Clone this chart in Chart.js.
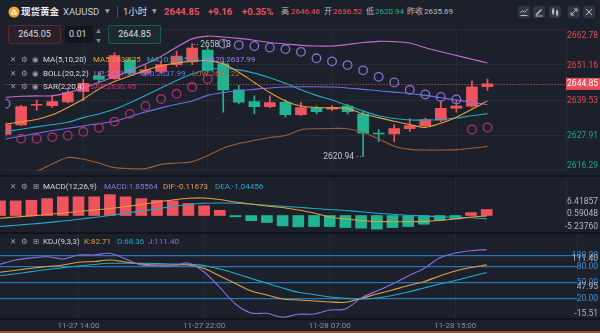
<!DOCTYPE html>
<html>
<head>
<meta charset="utf-8">
<script src="https://cdn.jsdelivr.net/npm/chart.js@4.4.1/dist/chart.umd.min.js"></script>
<style>
  html, body { margin: 0; padding: 0; background: #1c202b; }
  body { width: 600px; height: 333px; position: relative; overflow: hidden;
         font-family: Roboto, "Noto Sans CJK SC", "DejaVu Sans", sans-serif; }
  canvas { position: absolute; left: 0; }
  .t { position: absolute; white-space: nowrap; line-height: 1; pointer-events: none; z-index: 5; }
  .hd { font-size: 9.5px; top: 7px; }
  .sub { font-size: 8px; top: 8px; }
  .lg { font-size: 8px; }
  .ic { font-size: 7.5px; color: #9aa0aa; font-family: "DejaVu Sans", sans-serif; }
  .sep { position: absolute; left: 0; width: 600px; background: #11141b; z-index: 4; }
  .btn { position: absolute; top: 6px; width: 12px; height: 12px; background: #2f3543; border-radius: 2px; z-index: 5; }
  .btn svg { position: absolute; left: 0; top: 0; }
  .box { position: absolute; z-index: 5; font-size: 9px; color: #dcdfe4; text-align: center; line-height: 17px; border-radius: 2px; }
</style>
</head>
<body>
<canvas id="main" width="600" height="152" style="top:24px"></canvas>
<canvas id="macd" width="600" height="57" style="top:176px"></canvas>
<canvas id="kdj" width="600" height="100" style="top:233px"></canvas>

<div class="sep" style="top:175px;height:2px"></div>
<div class="sep" style="top:232px;height:2px"></div>
<div class="sep" style="top:318px;height:2px"></div>
<div style="position:absolute;left:0;top:331px;width:600px;height:2px;background:#a34e2d"></div>

<!-- header -->
<svg style="position:absolute;left:8px;top:6px" width="12" height="12">
  <circle cx="6" cy="6" r="5.5" fill="#f3a62f"/>
  <rect x="3" y="6.5" width="2.6" height="2" fill="#fff"/>
  <rect x="6.4" y="6.5" width="2.6" height="2" fill="#fff"/>
  <rect x="4.7" y="3.8" width="2.6" height="2" fill="#fff"/>
</svg>
<span class="t hd" style="left:21px;color:#eceef2;font-weight:bold">现货黄金</span>
<span class="t hd" style="left:63px;color:#c9cdd4">XAUUSD</span>
<span class="t ic" style="left:105px;top:8px;font-size:6px">▼</span>
<div style="position:absolute;left:117px;top:6px;width:1px;height:12px;background:#454b57"></div>
<span class="t hd" style="left:123px;color:#d3d6dc">1小时</span>
<span class="t ic" style="left:152px;top:8px;font-size:6px">▼</span>
<span class="t hd" id="hLast" style="left:164px;color:#f0505b;font-weight:bold"></span>
<span class="t hd" id="hChg" style="left:208px;color:#f0505b;font-weight:bold"></span>
<span class="t hd" id="hPct" style="left:242px;color:#f0505b;font-weight:bold"></span>
<span class="t sub" style="left:281px;color:#b9bdc5">高</span>
<span class="t sub" id="hHigh" style="left:291px;color:#f0505b"></span>
<span class="t sub" style="left:324px;color:#b9bdc5">开</span>
<span class="t sub" id="hOpen" style="left:333px;color:#f0505b"></span>
<span class="t sub" style="left:366px;color:#b9bdc5">低</span>
<span class="t sub" id="hLow" style="left:375px;color:#1fb38f"></span>
<span class="t sub" style="left:407px;color:#b9bdc5">昨收</span>
<span class="t sub" id="hPrev" style="left:424px;color:#b9bdc5"></span>

<div class="btn" style="left:518px"><svg width="12" height="12"><polyline points="2.5,7 4.5,4.5 6.5,6.5 9.5,3" fill="none" stroke="#b7bcc6" stroke-width="1"/><line x1="2.5" y1="9.5" x2="9.5" y2="9.5" stroke="#b7bcc6"/></svg></div>
<div class="btn" style="left:533px"><svg width="12" height="12"><line x1="3" y1="9" x2="8.5" y2="3.5" stroke="#b7bcc6" stroke-width="1.6"/><line x1="2.5" y1="10" x2="9.5" y2="10" stroke="#b7bcc6"/></svg></div>
<div class="btn" style="left:549px"><svg width="12" height="12"><rect x="3" y="3.5" width="2.2" height="4" fill="#b7bcc6"/><line x1="4.1" y1="2" x2="4.1" y2="9" stroke="#b7bcc6"/><rect x="7" y="5" width="2.2" height="4" fill="#b7bcc6"/><line x1="8.1" y1="3.5" x2="8.1" y2="10.5" stroke="#b7bcc6"/></svg></div>
<div class="btn" style="left:568px"><svg width="12" height="12"><line x1="3" y1="9" x2="9" y2="3" stroke="#b7bcc6"/><polyline points="6,3 9,3 9,6" fill="none" stroke="#b7bcc6"/><polyline points="3,6 3,9 6,9" fill="none" stroke="#b7bcc6"/></svg></div>
<div class="btn" style="left:583px"><svg width="12" height="12"><line x1="3" y1="3" x2="9" y2="9" stroke="#b7bcc6"/><line x1="9" y1="3" x2="3" y2="9" stroke="#b7bcc6"/></svg></div>

<!-- order boxes -->
<div class="box" id="askBox" style="left:8px;top:25px;width:51px;height:17px;border:1px solid #5c2a34;background:#2a2029"></div>
<div class="box" style="left:65px;top:26px;width:28px;height:17px;background:#12151c;text-align:left;padding-left:4px;box-sizing:border-box">0.01</div>
<span class="t" style="left:96px;top:29px;font-size:5px;color:#7e848f">▲</span>
<span class="t" style="left:96px;top:38px;font-size:5px;color:#7e848f">▼</span>
<div class="box" id="bidBox" style="left:108px;top:25px;width:51px;height:17px;border:1px solid #1f5a4f;background:#1b2b2d"></div>

<!-- indicator legends -->
<span class="t ic" style="left:10px;top:56px">✕</span><span class="t ic" style="left:21px;top:56px">⚙</span><span class="t ic" style="left:32px;top:56px">◉</span>
<span class="t lg" style="left:43px;top:56px;color:#d6d9df">MA(5,10,20)</span>
<span class="t lg" id="lgMa5" style="left:93px;top:56px;color:#e49f3d"></span>
<span class="t lg" id="lgMa10" style="left:147px;top:56px;color:#25a8c6"></span>
<span class="t lg" id="lgMa20" style="left:203px;top:56px;color:#9c82ea"></span>

<span class="t ic" style="left:10px;top:69.5px">✕</span><span class="t ic" style="left:21px;top:69.5px">⚙</span><span class="t ic" style="left:32px;top:69.5px">◉</span>
<span class="t lg" style="left:43px;top:69.5px;color:#d6d9df">BOLL(20,2,2)</span>
<span class="t lg" id="lgUp" style="left:94px;top:69.5px;color:#c66ccd"></span>
<span class="t lg" id="lgMid" style="left:140px;top:69.5px;color:#6b72ee"></span>
<span class="t lg" id="lgLow" style="left:192px;top:69.5px;color:#b26c36"></span>

<span class="t ic" style="left:10px;top:83px">✕</span><span class="t ic" style="left:21px;top:83px">⚙</span><span class="t ic" style="left:32px;top:83px">◉</span>
<span class="t lg" style="left:43px;top:83px;color:#d6d9df">SAR(2,20,4)</span>
<span class="t lg" id="lgSar" style="left:90px;top:83px;color:#c0347a"></span>

<span class="t ic" style="left:10px;top:182.5px">✕</span><span class="t ic" style="left:21px;top:182.5px">⚙</span><span class="t ic" style="left:33px;top:182.5px">⊞</span>
<span class="t lg" style="left:43px;top:182.5px;color:#d6d9df">MACD(12,26,9)</span>
<span class="t lg" id="lgMacd" style="left:104px;top:182.5px;color:#8d74e2"></span>
<span class="t lg" id="lgDif" style="left:163px;top:182.5px;color:#e49f3d"></span>
<span class="t lg" id="lgDea" style="left:215px;top:182.5px;color:#25a8c6"></span>

<span class="t ic" style="left:10px;top:237.5px">✕</span><span class="t ic" style="left:21px;top:237.5px">⚙</span><span class="t ic" style="left:33px;top:237.5px">⊞</span>
<span class="t lg" style="left:43px;top:237.5px;color:#d6d9df">KDJ(9,3,3)</span>
<span class="t lg" id="lgK" style="left:84px;top:237.5px;color:#e49f3d"></span>
<span class="t lg" id="lgD" style="left:117px;top:237.5px;color:#25a8c6"></span>
<span class="t lg" id="lgJ" style="left:148px;top:237.5px;color:#8d74e2"></span>

<script>
// XAUUSD 1h bars, 11-27 09:00 .. 11-28 17:00
const opens  = [2628.2, 2631.3, 2637.8, 2637.7, 2638.9, 2642.4, 2647.5, 2646.6, 2652.7, 2648.4, 2649.0, 2651.2, 2652.1, 2656.0, 2651.5, 2642.9,
                2639.0, 2637.3, 2638.8, 2634.7, 2637.0, 2636.52, 2637.5, 2634.9, 2628.6, 2628.3, 2630.1, 2631.1, 2632.9, 2636.8, 2637.5, 2643.9];
const highs  = [2632.0, 2637.8, 2639.5, 2641.1, 2642.9, 2646.3, 2648.5, 2655.1, 2653.6, 2651.0, 2652.4, 2655.7, 2658.13, 2657.0, 2652.4, 2644.4,
                2640.9, 2640.9, 2639.6, 2638.8, 2637.5, 2637.7, 2638.0, 2635.9, 2629.8, 2631.4, 2633.4, 2633.6, 2639.0, 2639.5, 2645.9, 2646.46];
const lows   = [2627.5, 2631.0, 2636.2, 2637.1, 2638.6, 2639.3, 2645.3, 2646.3, 2647.8, 2647.5, 2648.4, 2650.5, 2651.2, 2648.7, 2635.55, 2638.2,
                2635.0, 2637.0, 2633.9, 2634.4, 2634.9, 2636.0, 2634.9, 2620.94, 2625.8, 2625.8, 2629.1, 2630.5, 2632.4, 2635.5, 2637.2, 2642.7];
const closes = [2631.3, 2637.4, 2637.9, 2639.0, 2642.0, 2645.0, 2646.3, 2654.2, 2648.4, 2649.5, 2651.2, 2654.0, 2656.7, 2649.3, 2642.9, 2638.8,
                2637.3, 2638.7, 2634.7, 2637.0, 2635.69, 2637.0, 2635.7, 2628.6, 2628.3, 2630.1, 2631.1, 2633.1, 2636.8, 2637.5, 2643.9, 2644.85];

const ma5  = [2631.58, 2632.34, 2633.11, 2634.63, 2637.08, 2639.84, 2643.20, 2645.65, 2647.48, 2649.32, 2650.85, 2651.77, 2652.38, 2652.53, 2651.46, 2648.71,
              2645.34, 2641.98, 2639.22, 2637.54, 2637.08, 2636.93, 2636.78, 2634.94, 2633.72, 2632.49, 2631.42, 2630.50, 2631.88, 2633.87, 2636.47, 2639.25];
const ma10 = [2629.13, 2629.89, 2630.66, 2631.42, 2632.19, 2633.72, 2634.94, 2636.47, 2638.61, 2641.06, 2643.51, 2645.95, 2648.10, 2649.62, 2649.93, 2649.47,
              2648.40, 2646.87, 2645.04, 2642.89, 2641.06, 2639.53, 2637.69, 2635.86, 2634.33, 2633.41, 2632.95, 2632.89, 2633.11, 2633.57, 2634.33, 2635.03];
const bollUp  = [2640.45, 2640.75, 2640.91, 2640.91, 2641.98, 2643.51, 2645.34, 2647.18, 2649.32, 2651.46, 2653.91, 2656.97, 2659.72, 2660.64, 2660.33, 2659.87,
                 2659.26, 2658.50, 2658.04, 2657.58, 2657.36, 2657.36, 2657.88, 2658.50, 2658.89, 2658.80, 2658.34, 2656.81, 2655.44, 2654.21, 2652.99, 2651.75];
// MA20 and the Bollinger middle band are the same line
const bollMid = [2626.68, 2627.60, 2628.52, 2629.44, 2630.20, 2630.97, 2631.73, 2632.49, 2634.03, 2635.55, 2636.93, 2638.15, 2639.22, 2641.06, 2641.98, 2642.59,
                 2643.05, 2643.51, 2643.81, 2643.90, 2643.90, 2643.81, 2643.51, 2643.05, 2642.59, 2642.13, 2641.67, 2641.06, 2640.29, 2639.53, 2638.77, 2637.99];
const bollLow = [2614.45, 2615.06, 2615.98, 2618.42, 2620.56, 2619.95, 2618.73, 2617.20, 2616.89, 2616.89, 2618.27, 2618.73, 2619.19, 2621.18, 2623.62, 2625.15,
                 2626.22, 2627.14, 2627.81, 2629.74, 2630.05, 2630.14, 2630.05, 2628.82, 2626.68, 2624.24, 2623.23, 2623.01, 2623.01, 2623.16, 2623.62, 2624.22];
const sar = [2638.31, 2626.77, 2626.77, 2627.29, 2627.81, 2629.04, 2630.35, 2632.40, 2634.94, 2637.48, 2639.84, 2641.58, 2643.81, 2646.47, 2658.13, 2657.67,
             2657.36, 2656.87, 2656.35, 2655.44, 2653.30, 2652.29, 2651.06, 2649.32, 2647.18, 2645.34, 2642.89, 2641.37, 2640.54, 2639.74, 2629.83, 2630.45];

const macdHist = [4.5, 4.5, 4.7, 5.2, 5.75, 5.75, 5.75, 6.41857, 5.75, 5.2, 4.7, 4.5, 3.7, 3.0, 1.6, -0.4,
                  -1.6, -2.15, -3.2, -3.5, -3.4, -3.4, -3.7, -3.9, -4.2, -3.7, -3.4, -2.7, -1.5, -1.0, 0.9, 1.85564];
const dif = [-0.86, -0.46, -0.1, 0.3, 0.77, 1.23, 1.7, 2.15, 2.77, 3.38, 4.15, 4.77, 5.3, 5.38, 4.9, 4.15,
             3.54, 2.9, 2.46, 1.7, 0.77, -0.46, -1.08, -1.54, -1.85, -1.9, -1.9, -1.8, -1.54, -1.08, -0.46, -0.11673];
const dea = [-3.38, -3.0, -2.6, -2.2, -1.7, -1.17, -0.6, 0, 0.68, 1.38, 2.06, 2.77, 3.38, 3.75, 3.85, 3.75,
             3.48, 3.17, 2.86, 2.52, 2.15, 1.85, 1.54, 1.14, 0.71, 0.37, 0.09, -0.15, -0.37, -0.52, -0.7, -1.04456];

const kLine = [68.8, 72.6, 76.3, 79.7, 82.5, 87.6, 89.1, 91.9, 88.2, 84.4, 82.5, 82.5, 82.5, 76.0, 61.9, 47.8,
               33.7, 26.2, 18.7, 16.8, 14.9, 13.1, 12.5, 19.6, 28.1, 35.6, 44.0, 51.2, 61.9, 71.3, 77.8, 82.71];
const dLine = [62.4, 66.2, 70.0, 74.1, 77.5, 80.7, 83.5, 85.7, 85.7, 85.7, 85.4, 84.4, 83.8, 81.6, 75.0, 66.6,
               57.2, 48.2, 39.3, 31.3, 27.1, 22.4, 20.0, 18.7, 20.6, 25.3, 31.8, 39.3, 46.9, 53.4, 60.9, 68.36];
const jLine = [83.8, 91.9, 95.7, 98.1, 93.8, 101.3, 101.3, 104.5, 93.8, 82.5, 81.2, 80.7, 86.3, 69.4, 40.3, 9.3,
               -7.6, -8.2, -15.51, -9.9, -9.5, -2.0, -0.1, 20.6, 33.7, 46.9, 61.9, 76.0, 95.7, 105.1, 109.4, 111.40];

const tickIdx    = [5, 13, 21, 29];
const tickLabels = ['11-27 14:00', '11-27 22:00', '11-28 07:00', '11-28 15:00'];
const priceTicks = [2616.29, 2627.91, 2639.53, 2651.16, 2662.78];
const kdjLevels  = [20, 50, 80, 100];
const macdAxisLabels = ['6.41857', '0.59048', '-5.23760'];
const kdjAxisLabels  = ['111.40', '47.95', '-15.51'];
const prevClose = 2635.69;
const askPrice  = 2645.05;
const dayStart  = 21;   // first bar of 11-28

const RED = '#ef535d', GREEN = '#20b493';
const SLOT = 15.7;      // px per bar
const FONT = 'Roboto, "Noto Sans CJK SC", sans-serif';
Chart.defaults.font.family = FONT;

const pts = arr => arr.map((v, i) => ({ x: i, y: v }));
const candleColors = closes.map((c, i) => c >= opens[i] ? RED : GREEN);
const last = closes[closes.length - 1];

// header / legend texts
const setText = (id, s) => { document.getElementById(id).textContent = s; };
const lastOf = a => a[a.length - 1];
const chg = last - prevClose;
setText('hLast', last.toFixed(2));
setText('hChg', (chg >= 0 ? '+' : '') + chg.toFixed(2));
setText('hPct', (chg >= 0 ? '+' : '') + (chg / prevClose * 100).toFixed(2) + '%');
setText('hHigh', Math.max(...highs.slice(dayStart)).toFixed(2));
setText('hOpen', opens[dayStart].toFixed(2));
setText('hLow', Math.min(...lows.slice(dayStart)).toFixed(2));
setText('hPrev', prevClose.toFixed(2));
setText('askBox', askPrice.toFixed(2));
setText('bidBox', last.toFixed(2));
setText('lgMa5', 'MA5:' + lastOf(ma5).toFixed(2));
setText('lgMa10', 'MA10:' + lastOf(ma10).toFixed(2));
setText('lgMa20', 'MA20:' + lastOf(bollMid).toFixed(2));
setText('lgUp', 'UP:' + lastOf(bollUp).toFixed(2));
setText('lgMid', 'MID:' + lastOf(bollMid).toFixed(2));
setText('lgLow', 'LOW:' + lastOf(bollLow).toFixed(2));
setText('lgSar', 'SAR:' + lastOf(sar).toFixed(2));
setText('lgMacd', 'MACD:' + lastOf(macdHist).toFixed(5));
setText('lgDif', 'DIF:' + lastOf(dif).toFixed(5));
setText('lgDea', 'DEA:' + lastOf(dea).toFixed(5));
setText('lgK', 'K:' + lastOf(kLine).toFixed(2));
setText('lgD', 'D:' + lastOf(dLine).toFixed(2));
setText('lgJ', 'J:' + lastOf(jLine).toFixed(2));

function xAxis(areaW, showLabels) {
  return {
    type: 'linear', min: 0, max: areaW / SLOT, offset: false,
    afterBuildTicks: s => { s.ticks = tickIdx.map(v => ({ value: v })); },
    afterFit: s => { s.height = showLabels ? 15 : 0; },
    grid: { color: '#252a35', drawTicks: false, offset: false },
    border: { display: false },
    ticks: {
      display: showLabels, color: '#8a8f99', font: { size: 8 }, padding: 3,
      maxRotation: 0, autoSkip: false,
      callback: v => tickLabels[tickIdx.indexOf(v)]
    }
  };
}

function yAxis(min, max, width, ticks, grid) {
  return {
    position: 'right', min, max,
    afterFit: s => { s.width = width; },
    afterBuildTicks: s => { s.ticks = (ticks || []).map(v => ({ value: v })); },
    ticks: { display: false },
    grid: grid || { display: false },
    border: { display: true, color: '#262b36' }
  };
}

const line = (data, color, order, width) => ({
  type: 'line', data: pts(data), borderColor: color, borderWidth: width || 1.1,
  pointRadius: 0, tension: 0.3, order
});

const baseOptions = {
  responsive: false, animation: false, events: [],
  layout: { padding: 0 },
  plugins: { legend: { display: false }, tooltip: { enabled: false } }
};

// right-hand labels drawn next to the plot
const sideText = {
  id: 'sideText',
  afterDraw(chart, args, opts) {
    const items = typeof opts.items === 'function' ? opts.items(chart) : [];
    const ctx = chart.ctx;
    ctx.save();
    ctx.font = '8.5px ' + FONT;
    ctx.textAlign = 'right';
    ctx.textBaseline = 'middle';
    items.forEach(it => {
      if (it.box) {
        ctx.fillStyle = it.box;
        ctx.fillRect(566, it.y - 6, 34, 12);
      }
      ctx.fillStyle = it.color;
      ctx.fillText(it.text, 598, it.y);
    });
    ctx.restore();
  }
};

// last price line and the high / low markers
const priceMarks = {
  id: 'priceMarks',
  afterDatasetsDraw(chart) {
    const { ctx, chartArea: a, scales: { x, y } } = chart;
    ctx.save();
    const py = Math.round(y.getPixelForValue(last)) + 0.5;
    ctx.strokeStyle = RED;
    ctx.lineWidth = 1;
    ctx.setLineDash([1, 2]);
    ctx.beginPath(); ctx.moveTo(a.left, py); ctx.lineTo(a.right, py); ctx.stroke();

    const hi = highs.indexOf(Math.max(...highs));
    const lo = lows.indexOf(Math.min(...lows));
    ctx.strokeStyle = '#a9adb6';
    ctx.fillStyle = '#c3c7cf';
    ctx.font = '8.5px ' + FONT;
    ctx.textBaseline = 'middle';
    const hx = x.getPixelForValue(hi), hy = Math.round(y.getPixelForValue(highs[hi])) + 0.5;
    ctx.beginPath(); ctx.moveTo(hx + 2, hy); ctx.lineTo(hx + 7, hy); ctx.stroke();
    ctx.textAlign = 'left';
    ctx.fillText(highs[hi].toFixed(2), hx + 8, hy);
    const lx = x.getPixelForValue(lo), ly = Math.round(y.getPixelForValue(lows[lo])) + 0.5;
    ctx.beginPath(); ctx.moveTo(lx - 2, ly); ctx.lineTo(lx - 8, ly); ctx.stroke();
    ctx.textAlign = 'right';
    ctx.fillText(lows[lo].toFixed(2), lx - 9, ly);
    ctx.restore();
  }
};

// price pane
new Chart(document.getElementById('main'), {
  type: 'bar',
  data: {
    datasets: [
      { type: 'line', label: 'SAR', data: pts(sar), showLine: false, pointStyle: 'circle',
        pointRadius: 4.3, pointBorderWidth: 1.3, pointBackgroundColor: 'rgba(0,0,0,0)',
        pointBorderColor: sar.map((v, i) => v > closes[i] ? '#8a6ed6' : '#b52f6f'), order: 0 },
      line(ma5, '#e49f3d', 1),
      line(ma10, '#25a8c6', 1),
      line(bollUp, '#c66ccd', 1),
      line(bollMid, '#6b72ee', 1),
      line(bollLow, '#9c5f34', 1),
      { label: 'body', data: closes.map((c, i) => ({ x: i, y: [opens[i], c] })),
        backgroundColor: candleColors, barThickness: 11, minBarLength: 1, grouped: false, order: 5 },
      { label: 'wick', data: closes.map((c, i) => ({ x: i, y: [lows[i], highs[i]] })),
        backgroundColor: candleColors, barThickness: 1, grouped: false, order: 6 }
    ]
  },
  options: {
    ...baseOptions,
    scales: {
      x: xAxis(566, false),
      y: yAxis(priceTicks[0], priceTicks[priceTicks.length - 1], 34, priceTicks, { color: '#262b36', drawTicks: false })
    },
    plugins: {
      ...baseOptions.plugins,
      sideText: {
        items: chart => {
          const s = chart.scales.y, a = chart.chartArea;
          const out = priceTicks.map(v => ({
            text: v.toFixed(2),
            y: Math.min(Math.max(s.getPixelForValue(v) + 1, a.top + 6), a.bottom - 5),
            color: v > prevClose ? '#dd4f5a' : '#1aa888'
          }));
          out.push({ text: last.toFixed(2), y: s.getPixelForValue(last), color: '#ffffff', box: '#e8505b' });
          return out;
        }
      }
    }
  },
  plugins: [priceMarks, sideText]
});

// MACD pane
new Chart(document.getElementById('macd'), {
  type: 'bar',
  data: {
    datasets: [
      line(dif, '#e49f3d', 0),
      line(dea, '#25a8c6', 0),
      { label: 'MACD', data: pts(macdHist), backgroundColor: macdHist.map(v => v >= 0 ? RED : GREEN),
        barThickness: 11, minBarLength: 1, grouped: false, order: 2 }
    ]
  },
  options: {
    ...baseOptions,
    scales: { x: xAxis(566, false), y: yAxis(-5.38, 12.15, 34, null, null) },
    plugins: {
      ...baseOptions.plugins,
      sideText: {
        items: () => macdAxisLabels.map((t, i) => ({ text: t, y: 26 + i * 12.3, color: '#b3b7c0' }))
      }
    }
  },
  plugins: [sideText]
});

// KDJ pane
new Chart(document.getElementById('kdj'), {
  type: 'line',
  data: {
    datasets: [
      line(jLine, '#8a6ee0', 0),
      line(kLine, '#e49f3d', 0),
      line(dLine, '#25a8c6', 0)
    ]
  },
  options: {
    ...baseOptions,
    scales: {
      x: xAxis(577, true),
      y: yAxis(-17.0, 142.6, 23, kdjLevels, { color: '#2a75b6', lineWidth: 1.3, drawTicks: false })
    },
    plugins: {
      ...baseOptions.plugins,
      sideText: {
        items: chart => {
          const s = chart.scales.y;
          const out = kdjLevels.map(v => ({ text: v.toFixed(2), y: s.getPixelForValue(v) + 0.5, color: '#3a8ed6' }));
          kdjAxisLabels.forEach((t, i) => out.push({ text: t, y: 26 + i * 27.5, color: '#b3b7c0' }));
          return out;
        }
      }
    }
  },
  plugins: [sideText]
});
</script>
</body>
</html>
